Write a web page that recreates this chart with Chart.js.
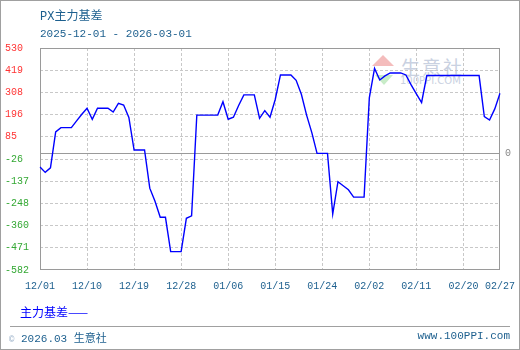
<!DOCTYPE html>
<html>
<head>
<meta charset="utf-8">
<script src="https://cdn.jsdelivr.net/npm/chart.js@4/dist/chart.umd.min.js"></script>
<style>
html,body{margin:0;padding:0;background:#fff;}
#wrap{position:relative;width:520px;height:350px;overflow:hidden;font-family:"Liberation Mono","Noto Sans CJK SC",monospace;}
#frame{position:absolute;left:0;top:0;width:520px;height:350px;box-sizing:border-box;border:1px solid #a0a0a0;pointer-events:none;z-index:5;}
canvas{position:absolute;left:0;top:0;z-index:2;}
.t{position:absolute;white-space:nowrap;color:#1c5f8e;z-index:3;}
#title{left:40px;top:6px;font-size:12px;}
#sub{left:40px;top:28px;font-size:11px;}
#legend{left:20px;top:303px;font-size:12px;color:#0000ff;font-family:"Noto Sans CJK SC","Liberation Mono",sans-serif;}
#sep{position:absolute;left:10px;top:326px;width:500px;height:1px;background:#a0a0a0;}
#copy{left:9px;top:329px;font-size:11px;}
#copy .c{color:#9ab0c8;font-size:9px;}
#site{right:10px;top:330px;font-size:11px;}
.wm{position:absolute;z-index:1;color:#c9d1e1;white-space:nowrap;}
#wm1{left:401px;top:53px;font-size:19px;font-family:"Noto Sans CJK SC",sans-serif;letter-spacing:2px;}
#wm2{left:400px;top:75px;font-size:10px;font-family:"DejaVu Sans",sans-serif;}
#tri1{position:absolute;left:372px;top:55px;width:0;height:0;border-left:11px solid transparent;border-right:11px solid transparent;border-bottom:11px solid #f4bcbc;z-index:1;}
#tri2{position:absolute;left:375px;top:75px;width:0;height:0;border-left:9px solid transparent;border-right:9px solid transparent;border-top:10px solid #c8ecc8;z-index:1;}
</style>
</head>
<body>
<div id="wrap">
  <div id="tri1"></div><div id="tri2"></div>
  <div class="wm" id="wm1">生意社</div>
  <div class="wm" id="wm2">100PPI.COM</div>
  <canvas id="c" width="520" height="350"></canvas>
  <div class="t" id="title">PX主力基差</div>
  <div class="t" id="sub">2025-12-01 - 2026-03-01</div>
  <div class="t" id="legend">主力基差——</div>
  <div id="sep"></div>
  <div class="t" id="copy"><span class="c">©</span> 2026.03 生意社</div>
  <div class="t" id="site">www.100PPI.com</div>
  <div id="frame"></div>
</div>
<script>
const dates = [
 '12/01','12/02','12/03','12/04','12/05','12/06','12/07','12/08','12/09','12/10',
 '12/11','12/12','12/13','12/14','12/15','12/16','12/17','12/18','12/19','12/20',
 '12/21','12/22','12/23','12/24','12/25','12/26','12/27','12/28','12/29','12/30',
 '12/31','01/01','01/02','01/03','01/04','01/05','01/06','01/07','01/08','01/09',
 '01/10','01/11','01/12','01/13','01/14','01/15','01/16','01/17','01/18','01/19',
 '01/20','01/21','01/22','01/23','01/24','01/25','01/26','01/27','01/28','01/29',
 '01/30','01/31','02/01','02/02','02/03','02/04','02/05','02/06','02/07','02/08',
 '02/09','02/10','02/11','02/12','02/13','02/14','02/15','02/16','02/17','02/18',
 '02/19','02/20','02/21','02/22','02/23','02/24','02/25','02/26','02/27'
];
const basis = [
 -66, -93, -70, 110, 131, 131, 131, 165, 198, 228,
 173, 228, 228, 228, 209, 253, 244, 182, 19, 19,
 19, -172, -238, -318, -318, -490, -490, -490, -323, -311,
 194, 194, 194, 194, 194, 261, 173, 183, 242, 295,
 295, 295, 178, 216, 183, 272, 395, 395, 395, 368,
 298, 194, 106, 2, 2, 2, -302, -140, -160, -180,
 -217, -217, -217, 280, 428, 370, 390, 405, 405, 405,
 395, 345, 300, 257, 392, 392, 392, 392, 392, 392,
 392, 392, 392, 392, 392, 186, 169, 225, 303
];
const xTickLabels = ['12/01','12/10','12/19','12/28','01/06','01/15','01/24','02/02','02/11','02/20','02/27'];
const yTickLabels = ['-582','-471','-360','-248','-137','-26','85','196','308','419','530'];
const yMin = -582, yMax = 530;

const xTickIdx = xTickLabels.map(l => dates.indexOf(l));
const tickFont = {family:'Liberation Mono', size:10};
const clear = 'rgba(0,0,0,0)';

const framePlugin = {
  id:'frame',
  beforeDatasetsDraw(chart){
    const a = chart.chartArea, ctx = chart.ctx;
    ctx.save();
    ctx.strokeStyle = '#9a9a9a';
    ctx.lineWidth = 1;
    ctx.setLineDash([]);
    ctx.strokeRect(Math.round(a.left)+0.5, Math.round(a.top)+0.5, Math.round(a.right-a.left)-1, Math.round(a.bottom-a.top)-1);
    ctx.restore();
  }
};

new Chart(document.getElementById('c'), {
  type:'line',
  data:{labels:dates, datasets:[{data:basis, borderColor:'#0000ff', borderWidth:1.4, pointRadius:0, tension:0, fill:false}]},
  options:{
    responsive:false, animation:false, devicePixelRatio:1,
    layout:{padding:{left:5, right:5, top:48, bottom:55}},
    plugins:{legend:{display:false}, tooltip:{enabled:false}},
    scales:{
      x:{
        type:'category', offset:false,
        afterBuildTicks: s => { s.ticks = xTickIdx.map(v => ({value:v})); },
        afterFit: s => { s.height = 25; s.paddingLeft = 0; s.paddingRight = 0; },
        ticks:{autoSkip:false, maxRotation:0, minRotation:0, padding:10, color:'#1c5f8e', font:tickFont},
        grid:{drawTicks:false, lineWidth:1, color: c => (c.index===0 || c.index===xTickIdx.length-1) ? clear : '#c8c8c8'},
        border:{display:false, dash:[3,2]}
      },
      y:{
        position:'left', min:yMin, max:yMax,
        afterBuildTicks: s => { s.ticks = yTickLabels.map((l,i) => ({value: yMin + i*(yMax-yMin)/(yTickLabels.length-1)})); },
        afterFit: s => { s.width = 35; },
        ticks:{
          callback:(v,i) => yTickLabels[i], crossAlign:'far', font:tickFont, padding:0,
          color: c => Number(yTickLabels[c.index]) > 0 ? '#ff3333' : '#33a833'
        },
        grid:{drawTicks:false, lineWidth:1, color: c => (c.index===0 || c.index===yTickLabels.length-1) ? clear : '#c8c8c8'},
        border:{display:false, dash:[3,2]}
      },
      y2:{
        position:'right', min:yMin, max:yMax,
        afterBuildTicks: s => { s.ticks = [{value:0}]; },
        afterFit: s => { s.width = 15; },
        ticks:{callback:() => '0', padding:5, color:'#888888', font:tickFont},
        grid:{drawTicks:false, lineWidth:1, color:'#9a9a9a'},
        border:{display:false}
      }
    }
  },
  plugins:[framePlugin]
});
</script>
</body>
</html>
